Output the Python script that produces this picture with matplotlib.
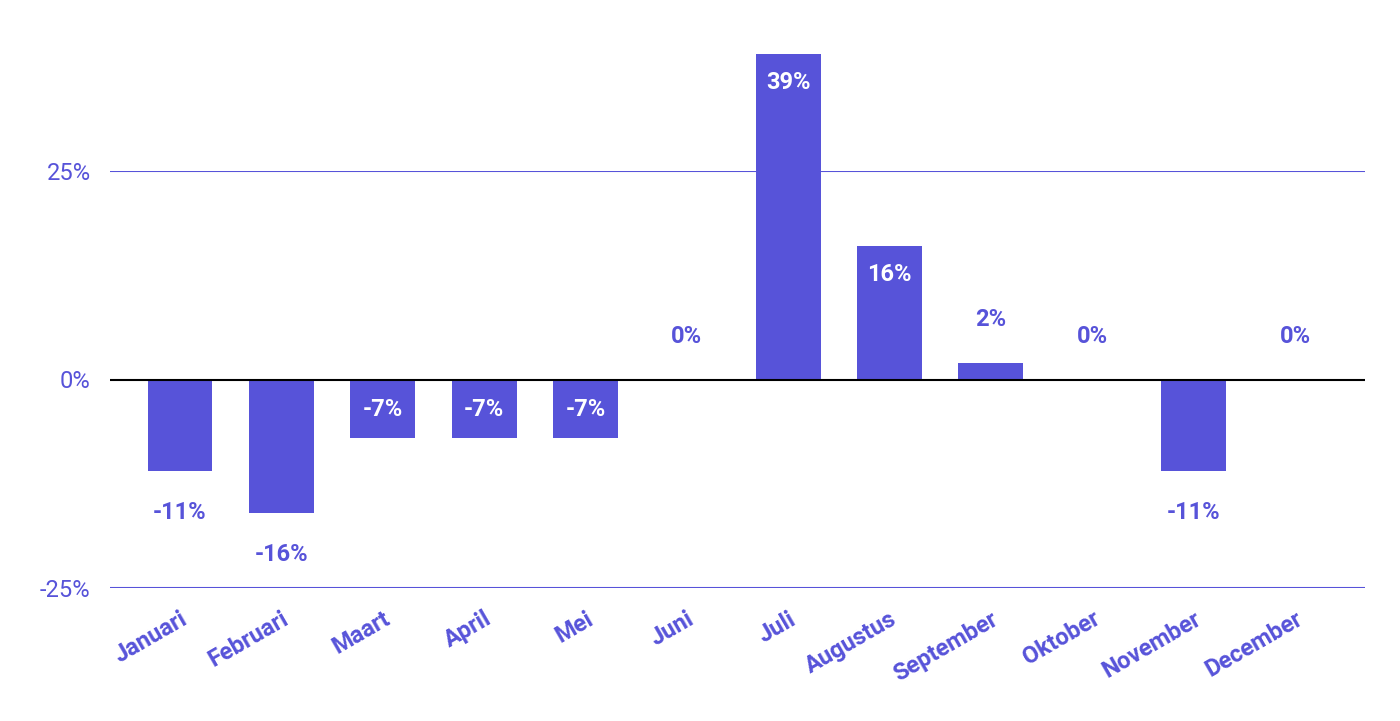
import matplotlib.pyplot as plt

months = ["Januari", "Februari", "Maart", "April", "Mei", "Juni", "Juli",
          "Augustus", "September", "Oktober", "November", "December"]
values = [-11, -16, -7, -7, -7, 0, 39, 16, 2, 0, -11, 0]
labels = ["-11%", "-16%", "-7%", "-7%", "-7%", "0%", "39%", "16%", "2%", "0%", "-11%", "0%"]
inside = [False, False, True, True, True, False, True, True, False, False, False, False]

color = "#5753d9"
plt.rcParams['font.family'] = ['Roboto', 'DejaVu Sans']

fig = plt.figure(figsize=(14, 7.21), dpi=100)
ax = fig.add_axes([110 / 1400, (721 - 588) / 721, 1255 / 1400, 417 / 721])
x = list(range(len(months)))
ax.bar(x, values, width=0.64, color=color, clip_on=False, zorder=2)
ax.set_xlim(-0.69, 11.69)
ax.set_ylim(-25, 25)

for i, v in enumerate(values):
    if inside[i]:
        off = -3.4 if v > 0 else 3.4
        ax.text(i, v + off, labels[i], ha='center', va='center', color='white',
                fontsize=17, fontweight='bold', zorder=3)
    else:
        off = 5.2 if v >= 0 else -5.0
        if v > 0:
            off = 5.2
        ax.text(i, v + off, labels[i], ha='center', va='center', color=color,
                fontsize=17, fontweight='bold', zorder=3)

for y in (25, -25):
    ax.axhline(y, color=color, lw=1.5, zorder=1)
ax.axhline(0, color='black', lw=1.5, zorder=3)

for s in ax.spines.values():
    s.set_visible(False)
ax.set_yticks([-25, 0, 25])
ax.set_yticklabels(["-25%", "0%", "25%"], color=color, fontsize=17)
ax.set_xticks(x)
ax.set_xticklabels(months, rotation=30, ha='right', rotation_mode='anchor',
                   color=color, fontsize=17, fontweight='bold')
ax.tick_params(length=0, pad=14)
ax.tick_params(axis='y', pad=14)

fig.savefig("out.png")
